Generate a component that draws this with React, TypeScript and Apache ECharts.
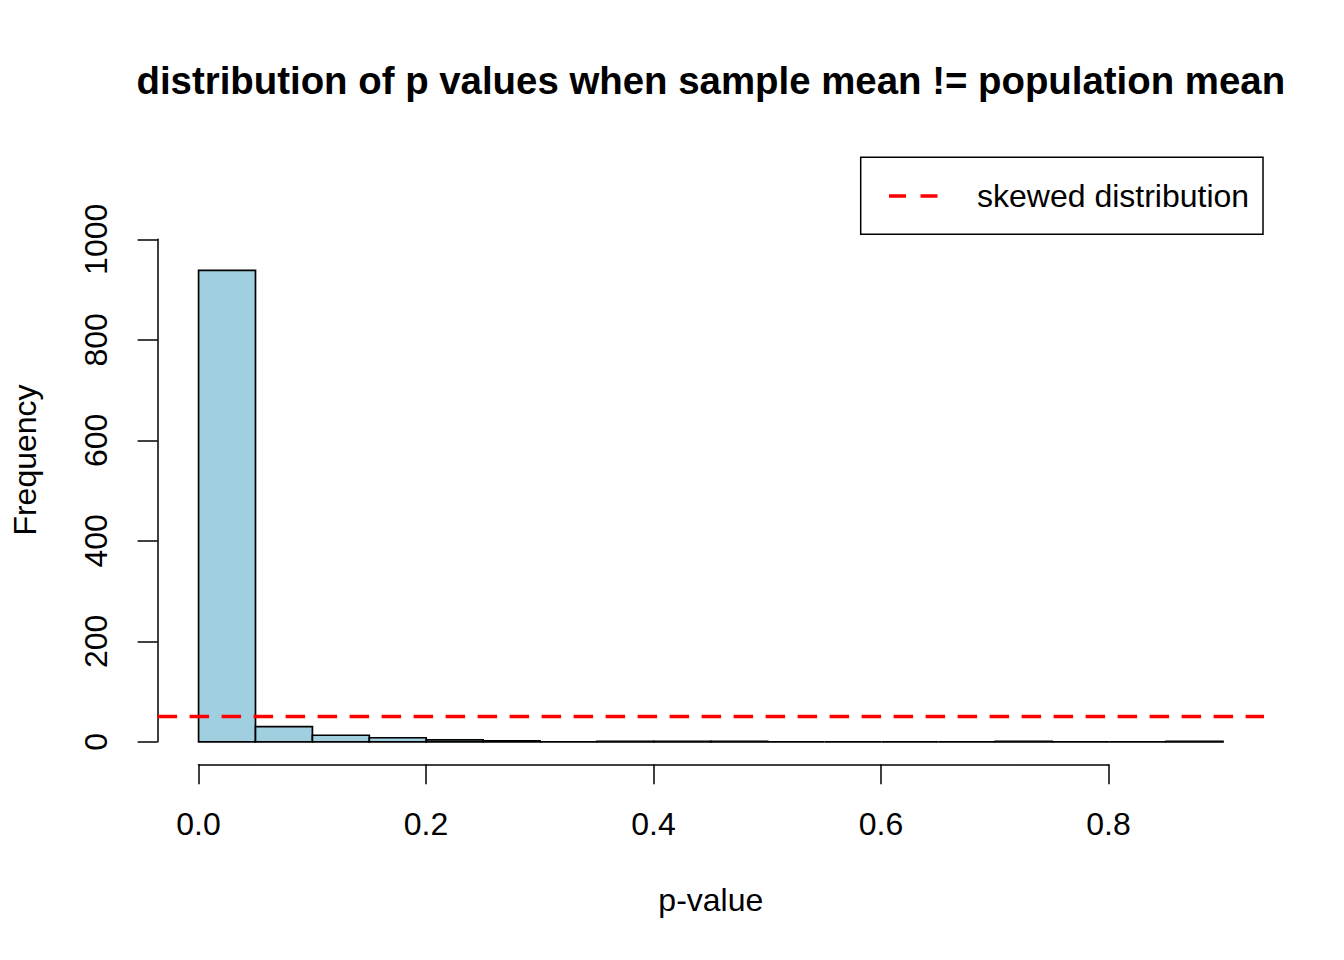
import React, { useEffect, useRef } from "react";
import * as echarts from "echarts";

const binEdges = [0, 0.05, 0.1, 0.15, 0.2, 0.25, 0.3, 0.35, 0.4, 0.45, 0.5, 0.55, 0.6, 0.65, 0.7, 0.75, 0.8, 0.85, 0.9];
const counts = [938, 30, 13, 8, 4, 2, 0, 1, 1, 1, 0, 0, 0, 0, 1, 0, 0, 1];
const thresholdValue = 50;
const xTickMin = 0;
const xTickMax = 0.8;
const xTickStep = 0.2;
const yTickMin = 0;
const yTickMax = 1000;
const yTickStep = 200;
const titleText = "distribution of p values when sample mean != population mean";
const xLabel = "p-value";
const yLabel = "Frequency";
const legendText = "skewed distribution";

const FONT = "'Liberation Sans', Arial, Helvetica, sans-serif";

export default function App() {
  const ref = useRef<HTMLDivElement>(null);
  useEffect(() => {
    if (!ref.current) return;
    const chart = echarts.init(ref.current, null, { renderer: "svg" });
    const binData = counts.map((c, i) => [binEdges[i], binEdges[i + 1], c]);
    const option: any = {
      animation: false,
      backgroundColor: "#ffffff",
      textStyle: { fontFamily: FONT },
      grid: [
        { left: 157.6, right: 80, top: 156.5, bottom: 195.7 },
        { left: 198.5, right: 235.5, top: 156.5, bottom: 195.7 },
        { left: 157.6, right: 80, top: 239.3, bottom: 218.2 },
      ],
      xAxis: [
        { gridIndex: 0, type: "value", min: -0.036, max: 0.936, show: false },
        {
          gridIndex: 1,
          type: "value",
          min: xTickMin,
          max: xTickMax,
          interval: xTickStep,
          position: "bottom",
          axisLine: { show: true, onZero: false, lineStyle: { color: "#000", width: 1.5 } },
          axisTick: { show: true, length: 20, lineStyle: { color: "#000", width: 1.5 } },
          axisLabel: {
            show: true,
            margin: 44,
            color: "#000",
            fontSize: 32,
            fontFamily: FONT,
            formatter: (v: number) => v.toFixed(1),
          },
          splitLine: { show: false },
        },
        { gridIndex: 2, type: "value", min: 0, max: 1, show: false },
      ],
      yAxis: [
        { gridIndex: 0, type: "value", min: -44.8, max: 1164.8, show: false },
        { gridIndex: 1, type: "value", min: 0, max: 1, show: false },
        {
          gridIndex: 2,
          type: "value",
          min: yTickMin,
          max: yTickMax,
          interval: yTickStep,
          position: "left",
          axisLine: { show: true, onZero: false, lineStyle: { color: "#000", width: 1.5 } },
          axisTick: { show: true, length: 20, lineStyle: { color: "#000", width: 1.5 } },
          axisLabel: {
            show: true,
            rotate: 90,
            margin: 46,
            color: "#000",
            fontSize: 32,
            fontFamily: FONT,
            formatter: (v: number) => String(v),
          },
          splitLine: { show: false },
        },
      ],
      series: [
        {
          type: "custom",
          xAxisIndex: 0,
          yAxisIndex: 0,
          data: binData,
          renderItem: (params: any, api: any) => {
            const p0 = api.coord([api.value(0), api.value(2)]);
            const p1 = api.coord([api.value(1), 0]);
            return {
              type: "rect",
              shape: { x: p0[0], y: p0[1], width: p1[0] - p0[0], height: p1[1] - p0[1] },
              style: { fill: "#A0CFE0", stroke: "#000", lineWidth: 1.7 },
            };
          },
          markLine: {
            silent: true,
            symbol: ["none", "none"],
            label: { show: false },
            lineStyle: { color: "#FF0000", width: 3.4, type: [19.5, 12.5] },
            data: [{ yAxis: thresholdValue }],
          },
        },
      ],
      graphic: [
        {
          type: "text",
          x: 710.8,
          y: 80,
          style: {
            text: titleText,
            font: `bold 38.4px ${FONT}`,
            fill: "#000",
            textAlign: "center",
            textVerticalAlign: "middle",
          },
        },
        {
          type: "text",
          x: 710.8,
          y: 900,
          style: {
            text: xLabel,
            font: `32px ${FONT}`,
            fill: "#000",
            textAlign: "center",
            textVerticalAlign: "middle",
          },
        },
        {
          type: "text",
          x: 25,
          y: 460,
          rotation: Math.PI / 2,
          style: {
            text: yLabel,
            font: `32px ${FONT}`,
            fill: "#000",
            textAlign: "center",
            textVerticalAlign: "middle",
          },
        },
        {
          type: "rect",
          shape: { x: 860.7, y: 157.3, width: 402.3, height: 77 },
          style: { fill: "#fff", stroke: "#000", lineWidth: 1.5 },
        },
        {
          type: "line",
          shape: { x1: 889, y1: 196, x2: 940, y2: 196 },
          style: { stroke: "#FF0000", lineWidth: 3.4, lineDash: [17, 14.5] },
        },
        {
          type: "text",
          x: 977,
          y: 196,
          style: {
            text: legendText,
            font: `32px ${FONT}`,
            fill: "#000",
            textAlign: "left",
            textVerticalAlign: "middle",
          },
        },
      ],
    };
    chart.setOption(option);
    return () => chart.dispose();
  }, []);
  return (
    <div
      ref={ref}
      style={{ position: "absolute", left: 0, top: 0, width: 1344, height: 960 }}
    />
  );
}
